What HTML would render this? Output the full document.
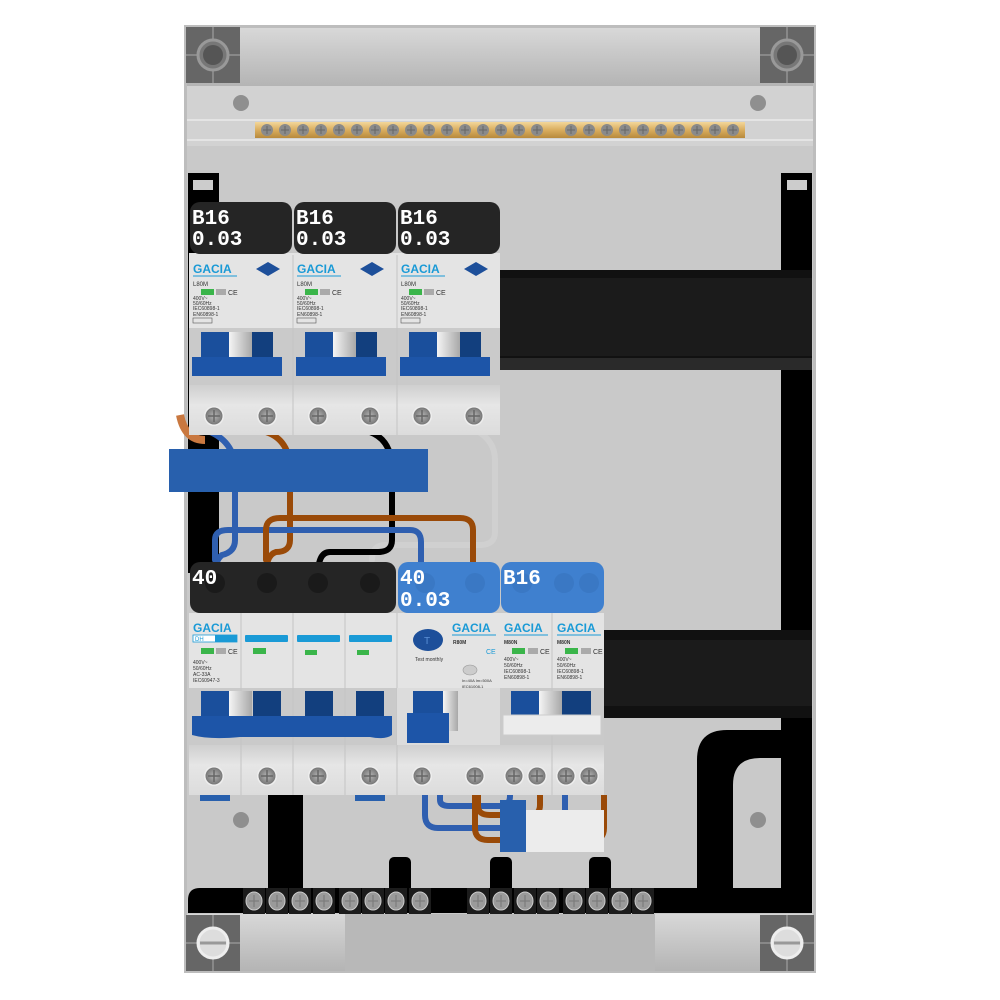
<!DOCTYPE html>
<html><head><meta charset="utf-8"><style>
html,body{margin:0;padding:0;background:#fff;width:1000px;height:1000px;overflow:hidden}
svg{display:block}
text{font-family:"Liberation Sans",sans-serif}
.lbl{font-family:"Liberation Mono","DejaVu Sans Mono",monospace;font-weight:bold;font-size:21px;fill:#fff}
.g{font-weight:bold;font-size:12px;fill:#1a9ad6}
.s{font-size:5px;fill:#333}
</style></head><body>
<svg width="1000" height="1000" viewBox="0 0 1000 1000" xmlns="http://www.w3.org/2000/svg">
<defs>
<linearGradient id="band" x1="0" y1="0" x2="0" y2="1"><stop offset="0" stop-color="#d8d8d8"/><stop offset="1" stop-color="#b4b4b4"/></linearGradient>
<linearGradient id="brass" x1="0" y1="0" x2="0" y2="1"><stop offset="0" stop-color="#f3d79a"/><stop offset="0.5" stop-color="#d9ad5e"/><stop offset="1" stop-color="#b88a3c"/></linearGradient>
<linearGradient id="term" x1="0" y1="0" x2="0" y2="1"><stop offset="0" stop-color="#cfcfcf"/><stop offset="0.4" stop-color="#e6e6e6"/><stop offset="1" stop-color="#dcdcdc"/></linearGradient>
<linearGradient id="tog" x1="0" y1="0" x2="1" y2="0"><stop offset="0" stop-color="#f5f5f5"/><stop offset="1" stop-color="#a8a8a8"/></linearGradient>
<radialGradient id="scr"><stop offset="0" stop-color="#b5b5b5"/><stop offset="1" stop-color="#777"/></radialGradient>
<g id="screw"><circle r="10" fill="#eee"/><circle r="8.5" fill="url(#scr)"/><path d="M-6 0H6M0-6V6" stroke="#666" stroke-width="1.5"/></g>
<g id="bscrew"><circle r="6" fill="#8a8a8a"/><path d="M-4 0H4M0-4V4" stroke="#666" stroke-width="1"/></g>
<g id="tscrew"><rect x="-11" y="-13" width="22" height="26" fill="#1c1c1c"/><ellipse rx="8" ry="9" fill="#9a9a9a" stroke="#ccc"/><path d="M-5 0H5M0-6V6" stroke="#777"/></g>
<g id="corner"><rect width="54" height="56" fill="#666"/><path d="M27 0V56M0 28H54" stroke="#888" stroke-width="2"/><circle cx="27" cy="28" r="15" fill="#777" stroke="#999" stroke-width="3"/><circle cx="27" cy="28" r="10" fill="#555"/></g>
<g id="cornerB"><rect width="54" height="56" fill="#666"/><path d="M27 0V56M0 28H54" stroke="#888" stroke-width="2"/><circle cx="27" cy="28" r="15" fill="#ddd" stroke="#eee" stroke-width="3"/><path d="M14 28H40" stroke="#999" stroke-width="3"/></g>
</defs>

<!-- enclosure -->
<rect x="184" y="25" width="632" height="948" fill="#bdbdbd"/>
<rect x="187" y="28" width="626" height="942" fill="#c9c9c9"/>
<rect x="187" y="28" width="626" height="58" fill="url(#band)"/>
<rect x="187" y="86" width="626" height="60" fill="#d2d2d2"/>
<path d="M187 120H813M187 140H813" stroke="#e4e4e4" stroke-width="2"/>
<use href="#corner" x="186" y="27"/><use href="#corner" x="760" y="27"/>
<circle cx="241" cy="103" r="8" fill="#8f8f8f"/><circle cx="758" cy="103" r="8" fill="#8f8f8f"/>
<circle cx="241" cy="820" r="8" fill="#8f8f8f"/><circle cx="758" cy="820" r="8" fill="#8f8f8f"/>
<!-- brass busbar -->
<rect x="255" y="122" width="490" height="16" fill="url(#brass)"/>
<g>
<use href="#bscrew" x="267" y="130"/><use href="#bscrew" x="285" y="130"/><use href="#bscrew" x="303" y="130"/><use href="#bscrew" x="321" y="130"/><use href="#bscrew" x="339" y="130"/><use href="#bscrew" x="357" y="130"/><use href="#bscrew" x="375" y="130"/><use href="#bscrew" x="393" y="130"/><use href="#bscrew" x="411" y="130"/><use href="#bscrew" x="429" y="130"/><use href="#bscrew" x="447" y="130"/><use href="#bscrew" x="465" y="130"/><use href="#bscrew" x="483" y="130"/><use href="#bscrew" x="501" y="130"/><use href="#bscrew" x="519" y="130"/><use href="#bscrew" x="537" y="130"/><use href="#bscrew" x="571" y="130"/><use href="#bscrew" x="589" y="130"/><use href="#bscrew" x="607" y="130"/><use href="#bscrew" x="625" y="130"/><use href="#bscrew" x="643" y="130"/><use href="#bscrew" x="661" y="130"/><use href="#bscrew" x="679" y="130"/><use href="#bscrew" x="697" y="130"/><use href="#bscrew" x="715" y="130"/><use href="#bscrew" x="733" y="130"/>
</g>

<!-- black N/PE bars -->
<rect x="188" y="173" width="31" height="400" fill="#000"/>
<rect x="193" y="180" width="20" height="10" fill="#ccc"/>
<rect x="781" y="173" width="31" height="740" fill="#000"/>
<rect x="787" y="180" width="20" height="10" fill="#ccc"/>
<!-- din rails -->
<rect x="500" y="270" width="312" height="100" fill="#111"/>
<rect x="500" y="278" width="312" height="78" fill="#1b1b1b"/>
<rect x="500" y="358" width="312" height="12" fill="#2a2a2a"/>
<rect x="604" y="630" width="208" height="88" fill="#111"/>
<rect x="604" y="640" width="208" height="66" fill="#1b1b1b"/>
<!-- lower black structure -->
<path d="M697 888V760Q697 730 727 730H812V758H760Q733 758 733 785V888Z" fill="#000"/>
<rect x="268" y="795" width="35" height="100" fill="#000"/>
<rect x="389" y="857" width="22" height="40" rx="5" fill="#000"/>
<rect x="490" y="857" width="22" height="40" rx="5" fill="#000"/>
<rect x="589" y="857" width="22" height="40" rx="5" fill="#000"/>
<path d="M188 913V900Q188 888 200 888H800Q812 888 812 900V913Z" fill="#000"/>
<g>
<use href="#tscrew" x="254" y="901"/><use href="#tscrew" x="277" y="901"/><use href="#tscrew" x="300" y="901"/><use href="#tscrew" x="324" y="901"/><use href="#tscrew" x="350" y="901"/><use href="#tscrew" x="373" y="901"/><use href="#tscrew" x="396" y="901"/><use href="#tscrew" x="420" y="901"/>
<use href="#tscrew" x="478" y="901"/><use href="#tscrew" x="501" y="901"/><use href="#tscrew" x="525" y="901"/><use href="#tscrew" x="548" y="901"/><use href="#tscrew" x="574" y="901"/><use href="#tscrew" x="597" y="901"/><use href="#tscrew" x="620" y="901"/><use href="#tscrew" x="643" y="901"/>
</g>
<!-- bottom band -->
<rect x="187" y="914" width="626" height="57" fill="url(#band)"/>
<rect x="345" y="914" width="310" height="57" fill="#b8b8b8"/>
<use href="#cornerB" x="186" y="915"/><use href="#cornerB" x="760" y="915"/>

<!-- wires (upper) -->
<g fill="none" stroke-width="6" stroke-linecap="round">
<path d="M475 430Q495 440 495 460V532Q495 545 480 545H385Q372 545 372 560" stroke="#d0d0d0"/>
<path d="M205 430Q235 440 235 470V540Q235 552 222 555Q215 560 215 575" stroke="#2f5fb0"/>
<path d="M266 432Q290 440 290 470V540Q290 552 276 552Q266 555 266 575" stroke="#9a4a08"/>
<path d="M370 432Q392 440 392 470V540Q392 552 378 552H330Q318 552 318 575" stroke="#000"/>
<path d="M215 560V540Q215 530 228 530H410Q421 530 421 542V575" stroke="#2f5fb0"/>
<path d="M266 560V530Q266 518 280 518H460Q473 518 473 530V575" stroke="#9a4a08"/>
</g>
<path d="M180 415Q185 440 205 440" stroke="#c97840" stroke-width="8" fill="none"/>
<!-- blue comb -->
<rect x="169" y="449" width="259" height="43" fill="#2860ad"/>

<!-- top modules -->
<g id="m1">
<rect x="189" y="253" width="311" height="182" fill="#e4e4e4"/>
</g>
<!-- module template repeated -->
<g>
<rect x="190" y="202" width="102" height="52" rx="10" fill="#252525"/>
<rect x="294" y="202" width="102" height="52" rx="10" fill="#252525"/>
<rect x="398" y="202" width="102" height="52" rx="10" fill="#252525"/>
<text class="lbl" x="192" y="224">B16</text><text class="lbl" x="192" y="245">0.03</text>
<text class="lbl" x="296" y="224">B16</text><text class="lbl" x="296" y="245">0.03</text>
<text class="lbl" x="400" y="224">B16</text><text class="lbl" x="400" y="245">0.03</text>
</g>
<g>
<rect x="189" y="328" width="311" height="57" fill="#cacaca"/>
<rect x="189" y="385" width="311" height="50" fill="url(#term)"/>
<path d="M293 255V435M397 255V435" stroke="#c4c4c4"/>
</g>
<!-- top module faces -->
<g>
<text class="g" x="193" y="273">GACIA</text><path d="M193 276H237" stroke="#1a9ad6"/>
<path d="M256 269L268 262L280 269L268 276Z" fill="#1d4f9a"/>
<text class="s" x="193" y="286" style="font-size:6px">L80M</text>
<rect x="201" y="289" width="13" height="6" fill="#3ab54a"/><rect x="216" y="289" width="10" height="6" fill="#aaa"/><text class="s" x="228" y="295" style="font-size:7px">CE</text>
<text class="s" x="193" y="300">400V~</text><text class="s" x="193" y="305">50/60Hz</text><text class="s" x="193" y="310">IEC60898-1</text><text class="s" x="193" y="316">EN60898-1</text><rect x="193" y="318" width="19" height="5" fill="none" stroke="#555" stroke-width=".6"/>
<text class="g" x="297" y="273">GACIA</text><path d="M297 276H341" stroke="#1a9ad6"/>
<path d="M360 269L372 262L384 269L372 276Z" fill="#1d4f9a"/>
<text class="s" x="297" y="286" style="font-size:6px">L80M</text>
<rect x="305" y="289" width="13" height="6" fill="#3ab54a"/><rect x="320" y="289" width="10" height="6" fill="#aaa"/><text class="s" x="332" y="295" style="font-size:7px">CE</text>
<text class="s" x="297" y="300">400V~</text><text class="s" x="297" y="305">50/60Hz</text><text class="s" x="297" y="310">IEC60898-1</text><text class="s" x="297" y="316">EN60898-1</text><rect x="297" y="318" width="19" height="5" fill="none" stroke="#555" stroke-width=".6"/>
<text class="g" x="401" y="273">GACIA</text><path d="M401 276H445" stroke="#1a9ad6"/>
<path d="M464 269L476 262L488 269L476 276Z" fill="#1d4f9a"/>
<text class="s" x="401" y="286" style="font-size:6px">L80M</text>
<rect x="409" y="289" width="13" height="6" fill="#3ab54a"/><rect x="424" y="289" width="10" height="6" fill="#aaa"/><text class="s" x="436" y="295" style="font-size:7px">CE</text>
<text class="s" x="401" y="300">400V~</text><text class="s" x="401" y="305">50/60Hz</text><text class="s" x="401" y="310">IEC60898-1</text><text class="s" x="401" y="316">EN60898-1</text><rect x="401" y="318" width="19" height="5" fill="none" stroke="#555" stroke-width=".6"/>
</g>
<!-- top handles -->
<g>
<rect x="201" y="332" width="29" height="26" fill="#1a4f9c"/><rect x="229" y="332" width="23" height="26" fill="url(#tog)"/><rect x="252" y="332" width="21" height="26" fill="#123f7e"/><rect x="192" y="357" width="90" height="19" fill="#1d55a8"/>
<rect x="305" y="332" width="29" height="26" fill="#1a4f9c"/><rect x="333" y="332" width="23" height="26" fill="url(#tog)"/><rect x="356" y="332" width="21" height="26" fill="#123f7e"/><rect x="296" y="357" width="90" height="19" fill="#1d55a8"/>
<rect x="409" y="332" width="29" height="26" fill="#1a4f9c"/><rect x="437" y="332" width="23" height="26" fill="url(#tog)"/><rect x="460" y="332" width="21" height="26" fill="#123f7e"/><rect x="400" y="357" width="90" height="19" fill="#1d55a8"/>
</g>
<g>
<use href="#screw" x="214" y="416"/><use href="#screw" x="267" y="416"/>
<use href="#screw" x="318" y="416"/><use href="#screw" x="370" y="416"/>
<use href="#screw" x="422" y="416"/><use href="#screw" x="474" y="416"/>
</g>

<!-- bottom wires -->
<g fill="none" stroke-width="6">
<path d="M425 790V815Q425 828 438 828H552Q565 828 565 815V790" stroke="#2f5fb0"/>
<path d="M440 790V800Q440 806 450 806H500Q510 806 510 796V790" stroke="#2f5fb0"/>
<path d="M475 790V828Q475 840 488 840H592Q604 840 604 828V795" stroke="#9a4a08"/>
<path d="M478 790V806Q478 815 490 815H530Q540 815 540 805V790" stroke="#9a4a08"/>
</g>
<rect x="500" y="800" width="26" height="52" fill="#2860ad"/>
<rect x="526" y="810" width="78" height="42" fill="#ececec"/>

<!-- bottom row modules -->
<rect x="189" y="613" width="415" height="182" fill="#e4e4e4"/>
<rect x="190" y="562" width="206" height="51" rx="10" fill="#252525"/>
<rect x="398" y="562" width="102" height="51" rx="10" fill="#3f80cf"/>
<rect x="501" y="562" width="103" height="51" rx="10" fill="#3f80cf"/>
<g fill="#1a1a1a"><circle cx="215" cy="583" r="10"/><circle cx="267" cy="583" r="10"/><circle cx="318" cy="583" r="10"/><circle cx="370" cy="583" r="10"/></g>
<g fill="#3a78c4"><circle cx="425" cy="583" r="10"/><circle cx="475" cy="583" r="10"/><circle cx="522" cy="583" r="10"/><circle cx="564" cy="583" r="10"/><circle cx="589" cy="583" r="10"/></g>
<text class="lbl" x="192" y="584">40</text>
<text class="lbl" x="400" y="584">40</text><text class="lbl" x="400" y="606">0.03</text>
<text class="lbl" x="503" y="584">B16</text>
<rect x="189" y="688" width="415" height="57" fill="#cacaca"/>
<rect x="189" y="745" width="415" height="50" fill="url(#term)"/>
<path d="M241 613V795M293 613V795M345 613V795M397 613V795M552 613V795" stroke="#c4c4c4"/>
<rect x="397" y="688" width="103" height="57" fill="#dcdcdc"/>
<!-- bottom faces -->
<text class="g" x="193" y="632">GACIA</text>
<rect x="193" y="635" width="44" height="7" fill="#fff" stroke="#1a9ad6" stroke-width=".8"/><rect x="215" y="635" width="22" height="7" fill="#1a9ad6"/><text x="195" y="641" style="font-size:6px;fill:#1a9ad6">DH</text>
<rect x="245" y="635" width="43" height="7" rx="1" fill="#1a9ad6"/><rect x="297" y="635" width="43" height="7" rx="1" fill="#1a9ad6"/><rect x="349" y="635" width="43" height="7" rx="1" fill="#1a9ad6"/>
<rect x="201" y="648" width="13" height="6" fill="#3ab54a"/><rect x="216" y="648" width="10" height="6" fill="#aaa"/><text class="s" x="228" y="654" style="font-size:7px">CE</text>
<rect x="253" y="648" width="13" height="6" fill="#3ab54a"/><rect x="305" y="650" width="12" height="5" fill="#3ab54a"/><rect x="357" y="650" width="12" height="5" fill="#3ab54a"/>
<text class="s" x="193" y="664">400V~</text><text class="s" x="193" y="670">50/60Hz</text><text class="s" x="193" y="676">AC-33A</text><text class="s" x="193" y="682">IEC60947-3</text>
<ellipse cx="428" cy="640" rx="15" ry="11" fill="#1d4f9a"/><text x="424" y="644" style="font-size:10px;fill:#5b8fd6">T</text>
<text class="s" x="415" y="661">Test monthly</text>
<text class="g" x="452" y="632">GACIA</text><path d="M452 635H496" stroke="#1a9ad6"/>
<text class="s" x="453" y="644" style="font-weight:bold">R80M</text>
<text class="s" x="486" y="654" style="font-size:7px;fill:#1a9ad6">CE</text>
<ellipse cx="470" cy="670" rx="7" ry="5" fill="#ccc" stroke="#999" stroke-width=".6"/>
<text class="s" x="462" y="682" style="font-size:4px">In=40A Im=500A</text><text class="s" x="462" y="688" style="font-size:4px">IEC61008-1</text>
<text class="g" x="504" y="632">GACIA</text><path d="M504 635H548" stroke="#1a9ad6"/>
<text class="g" x="557" y="632">GACIA</text><path d="M557 635H601" stroke="#1a9ad6"/>
<text class="s" x="504" y="644" style="font-weight:bold">M80N</text><text class="s" x="557" y="644" style="font-weight:bold">M80N</text>
<rect x="512" y="648" width="13" height="6" fill="#3ab54a"/><rect x="528" y="648" width="10" height="6" fill="#aaa"/><text class="s" x="540" y="654" style="font-size:7px">CE</text>
<rect x="565" y="648" width="13" height="6" fill="#3ab54a"/><rect x="581" y="648" width="10" height="6" fill="#aaa"/><text class="s" x="593" y="654" style="font-size:7px">CE</text>
<text class="s" x="504" y="661">400V~</text><text class="s" x="504" y="667">50/60Hz</text><text class="s" x="504" y="673">IEC60898-1</text><text class="s" x="504" y="679">EN60898-1</text>
<text class="s" x="557" y="661">400V~</text><text class="s" x="557" y="667">50/60Hz</text><text class="s" x="557" y="673">IEC60898-1</text><text class="s" x="557" y="679">EN60898-1</text>
<!-- bottom handles -->
<rect x="201" y="691" width="29" height="27" fill="#1a4f9c"/><rect x="229" y="691" width="23" height="27" fill="url(#tog)"/>
<rect x="253" y="691" width="28" height="27" fill="#123f7e"/><rect x="305" y="691" width="28" height="27" fill="#123f7e"/><rect x="356" y="691" width="28" height="27" fill="#123f7e"/>
<path d="M192 716H392V735Q385 740 370 737H240Q210 740 192 735Z" fill="#1d55a8"/>
<rect x="413" y="691" width="30" height="25" fill="#1a4f9c"/><rect x="443" y="691" width="15" height="40" fill="url(#tog)"/>
<rect x="407" y="713" width="42" height="30" fill="#1d55a8"/>
<rect x="511" y="691" width="28" height="27" fill="#1a4f9c"/><rect x="539" y="691" width="23" height="27" fill="url(#tog)"/><rect x="562" y="691" width="29" height="27" fill="#123f7e"/>
<rect x="503" y="715" width="98" height="20" fill="#ececec" stroke="#ccc"/>
<g>
<use href="#screw" x="214" y="776"/><use href="#screw" x="267" y="776"/><use href="#screw" x="318" y="776"/><use href="#screw" x="370" y="776"/>
<use href="#screw" x="422" y="776"/><use href="#screw" x="475" y="776"/>
<use href="#screw" x="514" y="776"/><use href="#screw" x="537" y="776"/><use href="#screw" x="566" y="776"/><use href="#screw" x="589" y="776"/>
</g>
<rect x="200" y="795" width="30" height="6" fill="#2860ad"/><rect x="355" y="795" width="30" height="6" fill="#2860ad"/>
</svg>
</body></html>
